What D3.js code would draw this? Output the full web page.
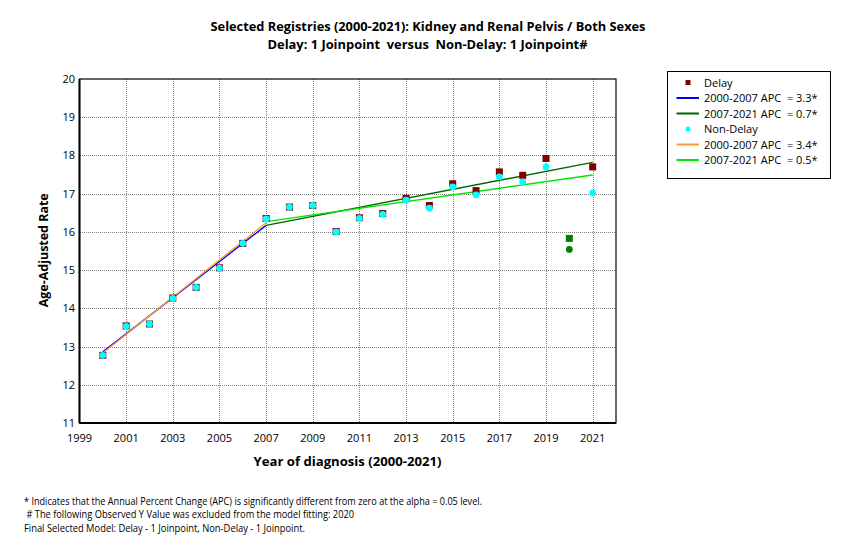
<!DOCTYPE html>
<html lang="en">
<head>
<meta charset="UTF-8">
<title>Kidney and Renal Pelvis - Delay vs Non-Delay</title>
<script src="https://d3js.org/d3.v7.min.js"></script>
<style>
    body { margin: 0; background: #fff; }
    svg { font-family: "Open Sans", "Noto Sans", sans-serif; }
    .grid line { stroke: #808080; stroke-width: 1; stroke-dasharray: 1,1; shape-rendering: crispEdges; }
    .tick-label { font-size: 11px; fill: #000; }
    .title { font-size: 12.5px; font-weight: bold; text-anchor: middle; }
    .axis-title { font-size: 13px; font-weight: bold; text-anchor: middle; }
    .legend-text { font-size: 11px; }
    .note { font-size: 11px; }
</style>
</head>
<body>
<svg id="chart" width="857" height="554"></svg>
<script>
    // Observed age-adjusted rates
    const years = [2000, 2001, 2002, 2003, 2004, 2005, 2006, 2007, 2008, 2009, 2010,
                   2011, 2012, 2013, 2014, 2015, 2016, 2017, 2018, 2019, 2020, 2021];
    const delayRates = [12.77, 13.54, 13.59, 14.27, 14.55, 15.06, 15.70, 16.35, 16.65, 16.69, 16.01,
                        16.37, 16.48, 16.88, 16.69, 17.26, 17.08, 17.57, 17.48, 17.92, 15.83, 17.70];
    const nonDelayRates = [12.77, 13.53, 13.59, 14.26, 14.55, 15.05, 15.70, 16.34, 16.65, 16.69, 16.00,
                           16.35, 16.46, 16.83, 16.62, 17.18, 16.97, 17.44, 17.31, 17.70, 15.54, 17.02];
    const excludedYear = 2020;

    // Fitted joinpoint segments: [year, value] at each end
    const delayFit1 = [[2000, 12.86], [2007, 16.17]];
    const delayFit2 = [[2007, 16.17], [2021, 17.82]];
    const nonDelayFit1 = [[2000, 12.83], [2007, 16.24]];
    const nonDelayFit2 = [[2007, 16.27], [2021, 17.49]];

    const xTicks = [1999, 2001, 2003, 2005, 2007, 2009, 2011, 2013, 2015, 2017, 2019, 2021];
    const yTicks = [11, 12, 13, 14, 15, 16, 17, 18, 19, 20];

    const legendItems = [
        { type: "square", color: "#800000", label: "Delay" },
        { type: "line", color: "#0000ff", label: "2000-2007 APC  = 3.3*" },
        { type: "line", color: "#006400", label: "2007-2021 APC  = 0.7*" },
        { type: "circle", color: "#00ffff", label: "Non-Delay" },
        { type: "line", color: "#ff9a2e", label: "2000-2007 APC  = 3.4*" },
        { type: "line", color: "#00e600", label: "2007-2021 APC  = 0.5*" }
    ];

    const notes = [
        "* Indicates that the Annual Percent Change (APC) is significantly different from zero at the alpha = 0.05 level.",
        " # The following Observed Y Value was excluded from the model fitting: 2020",
        "Final Selected Model: Delay - 1 Joinpoint, Non-Delay - 1 Joinpoint."
    ];
    const noteWidths = [458, 330, 281];

    const svg = d3.select("#chart");
    const plot = { left: 79.5, right: 616, top: 79, bottom: 423 };

    const x = d3.scaleLinear().domain([1999, 2022]).range([plot.left, plot.right]);
    const y = d3.scaleLinear().domain([11, 20]).range([plot.bottom, plot.top]);

    // Titles
    svg.append("text").attr("class", "title").attr("x", 428).attr("y", 31)
        .attr("textLength", 435).attr("lengthAdjust", "spacingAndGlyphs")
        .text("Selected Registries (2000-2021): Kidney and Renal Pelvis / Both Sexes");
    svg.append("text").attr("class", "title").attr("x", 427.5).attr("y", 49)
        .attr("xml:space", "preserve")
        .attr("textLength", 320).attr("lengthAdjust", "spacingAndGlyphs")
        .text("Delay: 1 Joinpoint  versus  Non-Delay: 1 Joinpoint#");

    // Grid lines
    const grid = svg.append("g").attr("class", "grid");
    grid.selectAll(".vx").data(xTicks.slice(1)).enter().append("line")
        .attr("x1", d => Math.round(x(d)) + 0.5).attr("x2", d => Math.round(x(d)) + 0.5)
        .attr("y1", plot.top).attr("y2", plot.bottom);
    grid.selectAll(".hy").data(yTicks.slice(1, -1)).enter().append("line")
        .attr("y1", d => Math.round(y(d)) + 0.5).attr("y2", d => Math.round(y(d)) + 0.5)
        .attr("x1", plot.left).attr("x2", plot.right);

    // Plot frame
    svg.append("rect")
        .attr("x", plot.left).attr("y", plot.top)
        .attr("width", plot.right - plot.left).attr("height", plot.bottom - plot.top)
        .attr("fill", "none").attr("stroke", "#000").attr("stroke-width", 1.2);
    svg.append("line").attr("x1", plot.left).attr("x2", plot.left)
        .attr("y1", plot.top).attr("y2", plot.bottom).attr("stroke", "#000").attr("stroke-width", 2);
    svg.append("line").attr("x1", plot.left).attr("x2", plot.right)
        .attr("y1", plot.bottom).attr("y2", plot.bottom).attr("stroke", "#000").attr("stroke-width", 2);

    // Tick labels
    svg.selectAll(".xlab").data(xTicks).enter().append("text")
        .attr("class", "tick-label").attr("text-anchor", "middle")
        .attr("x", d => x(d)).attr("y", 442).text(d => d);
    svg.selectAll(".ylab").data(yTicks).enter().append("text")
        .attr("class", "tick-label").attr("text-anchor", "end")
        .attr("x", 75).attr("y", d => y(d) + 4).text(d => d);

    // Axis titles
    svg.append("text").attr("class", "axis-title").attr("x", 347.5).attr("y", 465.5)
        .attr("textLength", 188).attr("lengthAdjust", "spacingAndGlyphs")
        .text("Year of diagnosis (2000-2021)");
    svg.append("text").attr("class", "axis-title")
        .attr("transform", "translate(47.5,250.3) rotate(-90)")
        .attr("textLength", 114).attr("lengthAdjust", "spacingAndGlyphs")
        .text("Age-Adjusted Rate");

    // Fitted lines
    const line = d3.line().x(d => x(d[0])).y(d => y(d[1]));
    const fits = [
        { data: delayFit1, color: "#0000ff" },
        { data: delayFit2, color: "#006400" },
        { data: nonDelayFit1, color: "#ff9a2e" },
        { data: nonDelayFit2, color: "#00e600" }
    ];
    svg.selectAll(".fit").data(fits).enter().append("path")
        .attr("d", d => line(d.data)).attr("fill", "none")
        .attr("stroke", d => d.color).attr("stroke-width", 1.4);

    // Observed points
    svg.selectAll(".delay").data(years).enter().append("rect")
        .attr("x", d => x(d) - 3.5).attr("y", (d, i) => y(delayRates[i]) - 3.5)
        .attr("width", 7).attr("height", 7)
        .attr("fill", d => d === excludedYear ? "#008000" : "#800000");
    svg.selectAll(".nondelay").data(years).enter().append("circle")
        .attr("cx", d => x(d)).attr("cy", (d, i) => y(nonDelayRates[i]))
        .attr("r", 3.4)
        .attr("fill", d => d === excludedYear ? "#008000" : "#00ffff");

    // Legend
    const lg = svg.append("g");
    lg.append("rect").attr("x", 667.5).attr("y", 71.5).attr("width", 163).attr("height", 107)
        .attr("fill", "#fff").attr("stroke", "#000").attr("stroke-width", 1);
    legendItems.forEach((d, i) => {
        const cy = 82.5 + i * 15.5;
        if (d.type === "square") {
            lg.append("rect").attr("x", 685.5).attr("y", cy - 2.5).attr("width", 5).attr("height", 5).attr("fill", d.color);
        } else if (d.type === "circle") {
            lg.append("circle").attr("cx", 688).attr("cy", cy).attr("r", 2.5).attr("fill", d.color);
        } else {
            lg.append("line").attr("x1", 676.5).attr("x2", 699).attr("y1", cy).attr("y2", cy)
                .attr("stroke", d.color).attr("stroke-width", 2);
        }
        lg.append("text").attr("class", "legend-text").attr("x", 704).attr("y", cy + 4)
            .attr("xml:space", "preserve").text(d.label);
    });

    // Footnotes
    svg.selectAll(".note").data(notes).enter().append("text")
        .attr("class", "note").attr("x", 24).attr("y", (d, i) => 504.5 + i * 13.5)
        .attr("xml:space", "preserve")
        .attr("textLength", (d, i) => noteWidths[i]).attr("lengthAdjust", "spacingAndGlyphs")
        .text(d => d);
</script>
</body>
</html>
